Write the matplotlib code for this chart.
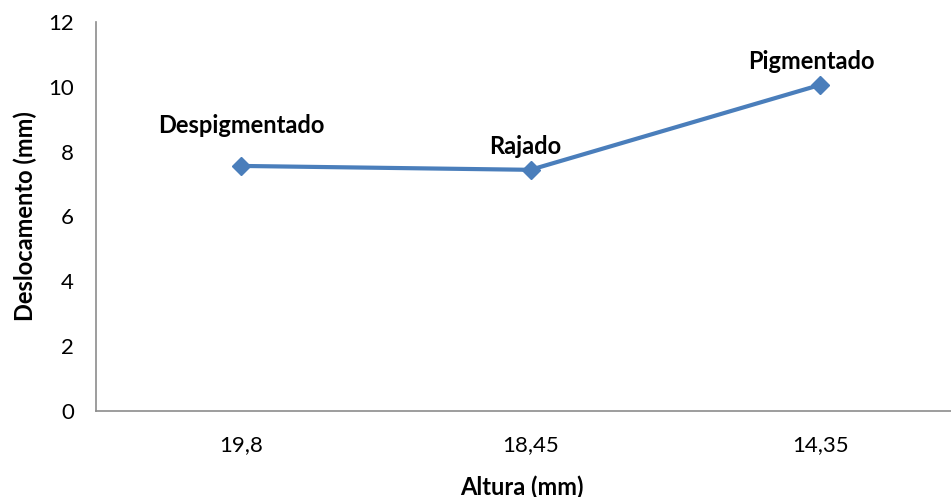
import matplotlib
matplotlib.use("Agg")
import matplotlib.pyplot as plt

plt.rcParams['font.family'] = ['Lato', 'DejaVu Sans']

# dados
alturas = ['19,8', '18,45', '14,35']
deslocamento = [7.56, 7.44, 10.06]
rotulos = ['Despigmentado', 'Rajado', 'Pigmentado']
desloc_rotulo = [(0, 29), (-4, 17), (-6, 17)]  # offset em pontos

cor = '#4A7EBB'
cinza = '#8C8C8C'

fig = plt.figure(figsize=(9.51, 4.97), dpi=100)
ax = fig.add_axes([96 / 951, 86 / 497, 869 / 951, 389 / 497])

x = list(range(len(alturas)))
ax.plot(x, deslocamento, color=cor, lw=3, marker='D', ms=9,
        markerfacecolor=cor, markeredgecolor=cor, clip_on=False)

for xi, yi, txt, off in zip(x, deslocamento, rotulos, desloc_rotulo):
    ax.annotate(txt, (xi, yi), xytext=off, textcoords='offset points',
                ha='center', va='center', fontsize=17, fontweight='bold')

ax.set_xlim(-0.5, 2.5)
ax.set_ylim(0, 12)
ax.set_yticks(range(0, 13, 2))
ax.set_xticks(x)
ax.set_xticklabels(alturas)
ax.tick_params(axis='both', length=0, labelsize=16, colors='black')
ax.tick_params(axis='x', pad=17)
ax.tick_params(axis='y', pad=16)

for s in ['top', 'right']:
    ax.spines[s].set_visible(False)
for s in ['left', 'bottom']:
    ax.spines[s].set_color(cinza)
    ax.spines[s].set_linewidth(1.2)

fig.text(522 / 951, 10 / 497, 'Altura (mm)', ha='center', va='center',
         fontsize=17, fontweight='bold')
fig.text(25 / 951, 1 - 216 / 497, 'Deslocamento (mm)', ha='center',
         va='center', rotation=90, fontsize=17, fontweight='bold')

fig.savefig('out.png', dpi=100)
